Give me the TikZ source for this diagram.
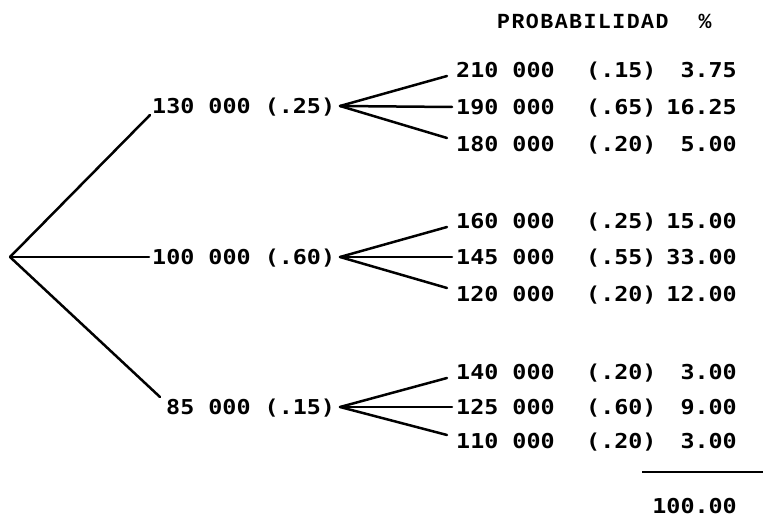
\documentclass[tikz,border=0pt]{standalone}
\usepackage{fontspec}
\newfontfamily\tw{DejaVu Sans Mono}[FakeStretch=1.14]
\newfontfamily\hw{Liberation Mono}[LetterSpace=7,WordSpace=1.1]
\begin{document}
\begin{tikzpicture}[x=1pt,y=-1pt,
  t/.style={inner sep=0pt, text height=15pt, text depth=0pt, font=\tw\bfseries\fontsize{20.5}{22}\selectfont},
  hd/.style={inner sep=0pt, text height=14pt, text depth=0pt, font=\hw\bfseries\fontsize{21.5}{22}\selectfont},
  br/.style={line width=2.5pt, line cap=round, line join=round}]
\useasboundingbox (0,0) rectangle (763,518);
% header
\node[hd,anchor=west] (h1) at (497,22) {PROBABILIDAD};
\node[hd] (h2) at (705,22) {\%};
% root
\coordinate (root) at (10,257);
% middle level
\node[t,anchor=west] (m1) at (152,106) {130 000 (.25)};
\node[t,anchor=west] (m2) at (152,257) {100 000 (.60)};
\node[t,anchor=west] (m3) at (166,407) {85 000 (.15)};
\coordinate (f1) at (340,106);
\coordinate (f2) at (340,257);
\coordinate (f3) at (340,407);
\draw[br] (root) -- ([xshift=-2pt,yshift=-9pt]m1.west);
\draw[br] (root) -- ([xshift=-3pt]m2.west);
\draw[br] (root) -- ([xshift=-6pt,yshift=10pt]m3.west);
% leaves
\foreach \n/\y/\v/\p/\q in {
  a1/70/210 000/(.15)/3.75, a2/107/190 000/(.65)/16.25, a3/144/180 000/(.20)/5.00,
  b1/221/160 000/(.25)/15.00, b2/257/145 000/(.55)/33.00, b3/294/120 000/(.20)/12.00,
  c1/372/140 000/(.20)/3.00, c2/407/125 000/(.60)/9.00, c3/441/110 000/(.20)/3.00}{
  \node[t,anchor=west] (\n) at (456,\y) {\v};
  \node[t,anchor=west] (\n p) at (586,\y) {\p};
  \node[t,anchor=east] (\n q) at (737,\y) {\q};
}
\foreach \f/\l in {f1/a, f2/b, f3/c}{
  \draw[br] (\f) -- ([xshift=-9pt,yshift=-6pt]\l1.west);
  \draw[br] (\f) -- ([xshift=-4pt]\l2.west);
  \draw[br] (\f) -- ([xshift=-9pt,yshift=6pt]\l3.west);
}
% total
\coordinate (s1) at (642,472);
\coordinate (s2) at (763,472);
\draw[line width=2pt] (s1) -- (s2);
\node[t,anchor=east] (tot) at (737,506) {100.00};
\end{tikzpicture}
\end{document}
